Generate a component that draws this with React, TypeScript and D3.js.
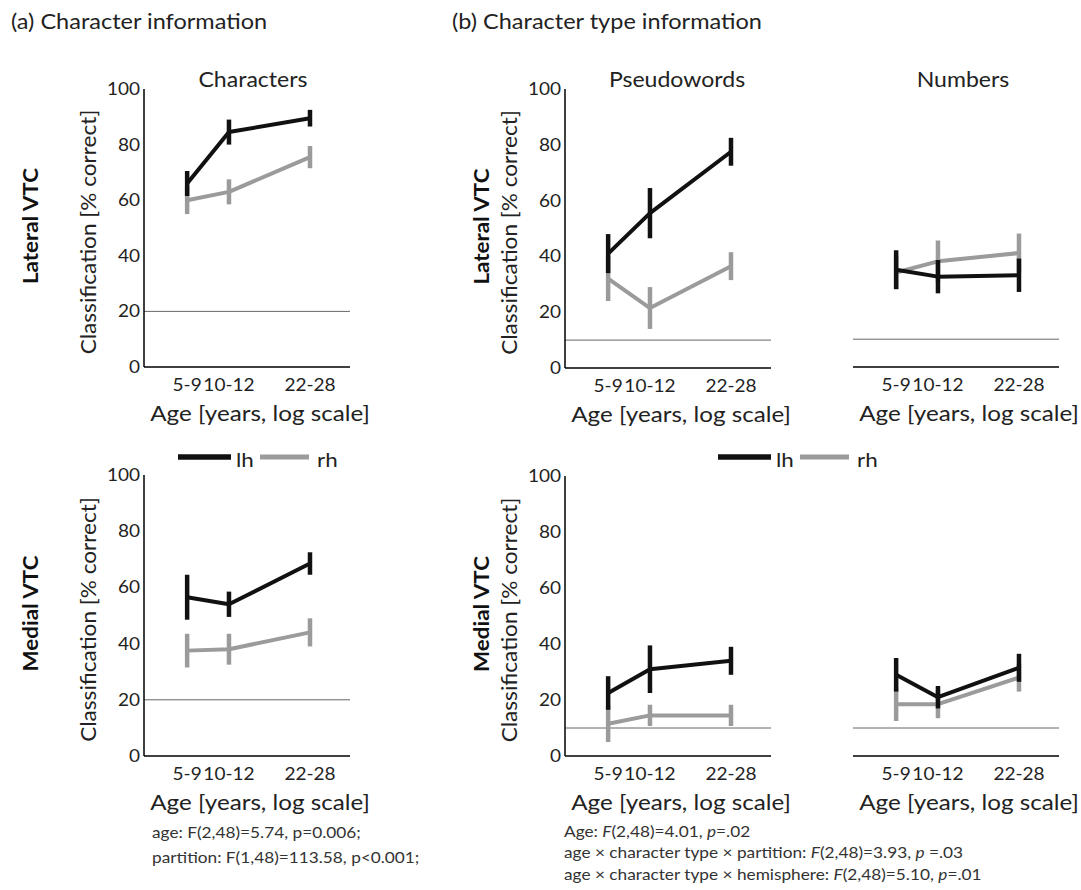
import React from 'react';
import * as d3 from 'd3';

// age groups (x axis, log of mean age)
const ageGroups = ['5-9', '10-12', '22-28'];
const meanAges = [7.2, 11, 25];
const yTicks = [0, 20, 40, 60, 80, 100];

// Characters, lateral VTC
const charLatLh = [66, 84.5, 89.5];
const charLatLhErr = [4.5, 4.5, 3];
const charLatRh = [60, 63, 75.5];
const charLatRhErr = [5, 4.5, 4];
// Characters, medial VTC
const charMedLh = [56.5, 54, 68.5];
const charMedLhErr = [8, 4.5, 4];
const charMedRh = [37.5, 38, 44];
const charMedRhErr = [6, 5.5, 5];
// Pseudowords, lateral VTC
const pseudoLatLh = [41, 55.5, 77.5];
const pseudoLatLhErr = [7, 9, 5];
const pseudoLatRh = [32, 21.5, 36.5];
const pseudoLatRhErr = [8, 7.5, 5];
// Pseudowords, medial VTC
const pseudoMedLh = [22.5, 31, 34];
const pseudoMedLhErr = [6, 8.5, 5];
const pseudoMedRh = [11.5, 14.5, 14.5];
const pseudoMedRhErr = [6.5, 3.8, 3.8];
// Numbers, lateral VTC
const numLatLh = [35, 32.5, 33];
const numLatLhErr = [7, 6, 6];
const numLatRh = [34, 38, 41];
const numLatRhErr = [6, 7.5, 7];
// Numbers, medial VTC
const numMedLh = [29, 21, 31.5];
const numMedLhErr = [6, 4, 5];
const numMedRh = [18.5, 18.5, 28];
const numMedRhErr = [6, 5, 5];

const FONT = 'Lato, "Open Sans", sans-serif';
const BLACK = '#111';
const GREY = '#9b9b9b';
const SX = 1.12; // the reference text is set wide

type TProps = {
  x: number;
  y: number;
  size: number;
  rotate?: number;
  anchor?: 'start' | 'middle' | 'end';
  weight?: string;
  fill?: string;
  children: React.ReactNode;
};

// text stretched along its own direction
const T = ({ x, y, size, rotate, anchor = 'start', weight, fill = '#222', children }: TProps) => (
  <text
    transform={`translate(${x},${y})${rotate ? ` rotate(${rotate})` : ''} scale(${SX},1)`}
    textAnchor={anchor}
    fontSize={size}
    fontWeight={weight}
    fill={fill}
  >
    {children}
  </text>
);

type PanelProps = {
  x0: number;
  top: number;
  bottom: number;
  chance: number;
  yAxis: boolean;
  lh: number[];
  lhErr: number[];
  rh: number[];
  rhErr: number[];
};

const Panel = ({ x0, top, bottom, chance, yAxis, lh, lhErr, rh, rhErr }: PanelProps) => {
  const x = d3.scaleLog().domain([4.65, 37.5]).range([x0, x0 + 206]);
  const y = d3.scaleLinear().domain([0, 100]).range([bottom, top]);
  const line = d3
    .line<number>()
    .x((_, i) => x(meanAges[i]))
    .y(d => y(d));

  const series = [
    { vals: rh, err: rhErr, color: GREY },
    { vals: lh, err: lhErr, color: BLACK },
  ];

  return (
    <g>
      {/* chance level */}
      <line x1={x0} x2={x0 + 206} y1={y(chance)} y2={y(chance)} stroke="#666" strokeWidth={1} />
      {/* axes */}
      <line x1={x0} x2={x0 + 206} y1={bottom} y2={bottom} stroke="#000" strokeWidth={1.5} />
      {yAxis && (
        <g>
          <line x1={x0} x2={x0} y1={top} y2={bottom} stroke="#000" strokeWidth={1.5} />
          {yTicks.map(t => (
            <T key={t} x={x0 - 4} y={y(t) + 6} anchor="end" size={17}>
              {t}
            </T>
          ))}
        </g>
      )}
      {ageGroups.map((g, i) => (
        <T key={g} x={x(meanAges[i])} y={bottom + 24} anchor="middle" size={17}>
          {g}
        </T>
      ))}
      {series.map((s, k) => (
        <g key={k}>
          <path d={line(s.vals) ?? ''} fill="none" stroke={s.color} strokeWidth={4} strokeLinejoin="round" />
          {s.vals.map((v, i) => (
            <line
              key={i}
              x1={x(meanAges[i])}
              x2={x(meanAges[i])}
              y1={y(v - s.err[i])}
              y2={y(v + s.err[i])}
              stroke={s.color}
              strokeWidth={4.5}
            />
          ))}
        </g>
      ))}
      <T x={x0 + 116} y={bottom + 54} anchor="middle" size={21.6}>
        Age [years, log scale]
      </T>
    </g>
  );
};

const YLabels = ({ bx, cx, rowLabel, top, bottom }: { bx: number; cx: number; rowLabel: string; top: number; bottom: number }) => {
  const mid = (top + bottom) / 2;
  return (
    <g>
      <T x={bx} y={mid - 2} rotate={-90} anchor="middle" size={20} weight="bold" fill="#111">
        {rowLabel}
      </T>
      <T x={cx} y={mid + 4} rotate={-90} anchor="middle" size={20.2}>
        Classification [% correct]
      </T>
    </g>
  );
};

const Legend = ({ x0, y0 }: { x0: number; y0: number }) => (
  <g>
    <line x1={x0} x2={x0 + 53} y1={y0} y2={y0} stroke={BLACK} strokeWidth={5.5} />
    <T x={x0 + 58} y={y0 + 10} size={20}>lh</T>
    <line x1={x0 + 82} x2={x0 + 131} y1={y0} y2={y0} stroke={GREY} strokeWidth={5} />
    <T x={x0 + 139} y={y0 + 10} size={20}>rh</T>
  </g>
);

export default function App() {
  return (
    <svg
      width={1081}
      height={890}
      style={{ position: 'absolute', left: 0, top: 0, display: 'block' }}
      fontFamily={FONT}
    >
      <rect width={1081} height={890} fill="#fff" />
      <T x={11} y={29} size={21}>(a) Character information</T>
      <T x={452} y={29} size={21}>(b) Character type information</T>

      <T x={253} y={87} anchor="middle" size={20.6}>Characters</T>
      <T x={677} y={87} anchor="middle" size={20.6}>Pseudowords</T>
      <T x={963} y={87} anchor="middle" size={20.6}>Numbers</T>

      <YLabels bx={38} cx={96} rowLabel="Lateral VTC" top={89} bottom={367} />
      <YLabels bx={38} cx={96} rowLabel="Medial VTC" top={475} bottom={756} />
      <YLabels bx={489} cx={517} rowLabel="Lateral VTC" top={89} bottom={368} />
      <YLabels bx={489} cx={517} rowLabel="Medial VTC" top={476} bottom={756} />

      <Panel x0={144} top={89} bottom={367} chance={20} yAxis lh={charLatLh} lhErr={charLatLhErr} rh={charLatRh} rhErr={charLatRhErr} />
      <Panel x0={144} top={475} bottom={756} chance={20} yAxis lh={charMedLh} lhErr={charMedLhErr} rh={charMedRh} rhErr={charMedRhErr} />
      <Panel x0={565} top={89} bottom={368} chance={10} yAxis lh={pseudoLatLh} lhErr={pseudoLatLhErr} rh={pseudoLatRh} rhErr={pseudoLatRhErr} />
      <Panel x0={565} top={476} bottom={756} chance={10} yAxis lh={pseudoMedLh} lhErr={pseudoMedLhErr} rh={pseudoMedRh} rhErr={pseudoMedRhErr} />
      <Panel x0={853} top={89} bottom={367} chance={10} yAxis={false} lh={numLatLh} lhErr={numLatLhErr} rh={numLatRh} rhErr={numLatRhErr} />
      <Panel x0={853} top={476} bottom={756} chance={10} yAxis={false} lh={numMedLh} lhErr={numMedLhErr} rh={numMedRh} rhErr={numMedRhErr} />

      <Legend x0={178} y0={457} />
      <Legend x0={718} y0={457} />

      <g>
        <T x={152} y={838} size={15.4} fill="#333">age: F(2,48)=5.74, p=0.006;</T>
        <T x={152} y={863} size={15.4} fill="#333">partition: F(1,48)=113.58, p&lt;0.001;</T>
        <T x={564} y={837} size={15.4} fill="#333">
          Age: <tspan fontStyle="italic">F</tspan>(2,48)=4.01, <tspan fontStyle="italic">p</tspan>=.02
        </T>
        <T x={564} y={858} size={15.4} fill="#333">
          age × character type × partition: <tspan fontStyle="italic">F</tspan>(2,48)=3.93,{' '}
          <tspan fontStyle="italic">p</tspan> =.03
        </T>
        <T x={564} y={880} size={15.4} fill="#333">
          age × character type × hemisphere: <tspan fontStyle="italic">F</tspan>(2,48)=5.10,{' '}
          <tspan fontStyle="italic">p</tspan>=.01
        </T>
      </g>
    </svg>
  );
}
